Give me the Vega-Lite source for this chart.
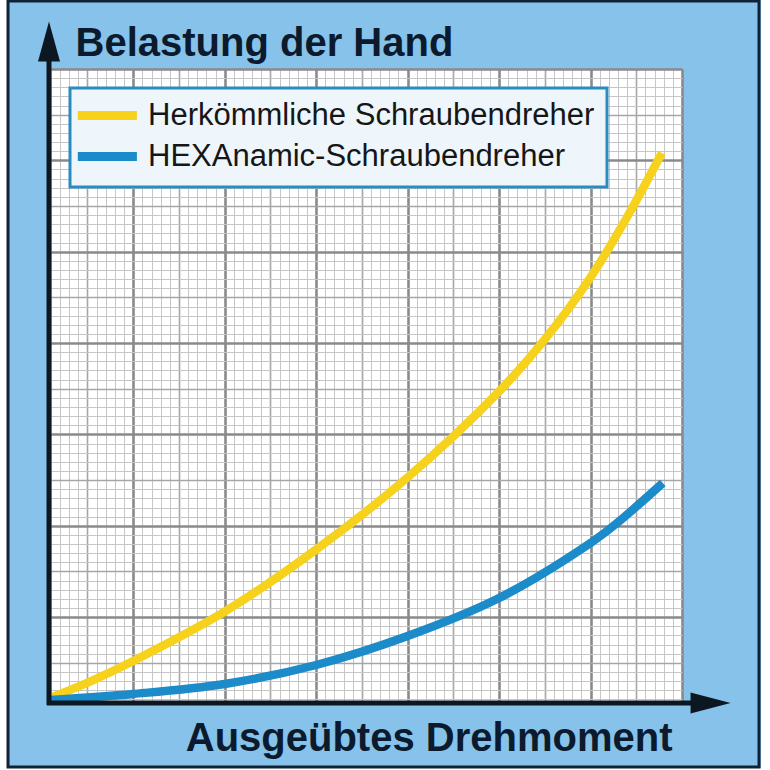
{
  "$schema": "https://vega.github.io/schema/vega-lite/v6.json",
  "autosize": "none",
  "width": 632,
  "height": 634,
  "padding": {"left": 50, "top": 69, "right": 88, "bottom": 67},
  "background": "#86c2e9",
  "data": {
    "values": [
      {"torque": 0.9, "load": 1.15, "series": "Herkömmliche Schraubendreher"},
      {"torque": 5.27, "load": 2.95, "series": "Herkömmliche Schraubendreher"},
      {"torque": 10, "load": 5.2, "series": "Herkömmliche Schraubendreher"},
      {"torque": 20, "load": 10.6, "series": "Herkömmliche Schraubendreher"},
      {"torque": 30, "load": 17.4, "series": "Herkömmliche Schraubendreher"},
      {"torque": 40, "load": 25.3, "series": "Herkömmliche Schraubendreher"},
      {"torque": 50, "load": 34.7, "series": "Herkömmliche Schraubendreher"},
      {"torque": 55, "load": 40.4, "series": "Herkömmliche Schraubendreher"},
      {"torque": 60, "load": 47.2, "series": "Herkömmliche Schraubendreher"},
      {"torque": 64, "load": 53.8, "series": "Herkömmliche Schraubendreher"},
      {"torque": 67.8, "load": 60.8, "series": "Herkömmliche Schraubendreher"},
      {"torque": 0.9, "load": 0.93, "series": "HEXAnamic-Schraubendreher"},
      {"torque": 10, "load": 1.59, "series": "HEXAnamic-Schraubendreher"},
      {"torque": 20, "load": 2.68, "series": "HEXAnamic-Schraubendreher"},
      {"torque": 30, "load": 4.76, "series": "HEXAnamic-Schraubendreher"},
      {"torque": 40, "load": 7.93, "series": "HEXAnamic-Schraubendreher"},
      {"torque": 50, "load": 12.09, "series": "HEXAnamic-Schraubendreher"},
      {"torque": 60, "load": 18.12, "series": "HEXAnamic-Schraubendreher"},
      {"torque": 62.9, "load": 20.3, "series": "HEXAnamic-Schraubendreher"},
      {"torque": 67.9, "load": 24.68, "series": "HEXAnamic-Schraubendreher"}
    ]
  },
  "layer": [
    {
      "data": {"values": [{}]},
      "mark": {"type": "rect", "fill": null, "stroke": "white", "strokeWidth": 16},
      "encoding": {
        "x": {"datum": -4.57, "type": "quantitative", "scale": {"domain": [0.9, 70], "nice": false, "zero": false}},
        "x2": {"datum": 79.51},
        "y": {"datum": 78.43, "type": "quantitative", "scale": {"domain": [0.6, 70], "nice": false, "zero": false}},
        "y2": {"datum": -7.39}
      }
    },
    {
      "data": {"values": [{}]},
      "mark": {"type": "rect", "fill": null, "stroke": "#0f2236", "strokeWidth": 3},
      "encoding": {
        "x": {"datum": -3.69, "type": "quantitative"},
        "x2": {"datum": 78.42},
        "y": {"datum": 77.45, "type": "quantitative"},
        "y2": {"datum": -6.41}
      }
    },
    {
      "mark": {"type": "line", "strokeWidth": 8.5, "interpolate": "catmull-rom", "strokeCap": "butt"},
      "encoding": {
        "x": {"field": "torque", "type": "quantitative",
          "axis": {"orient": "bottom", "tickCount": 70,
            "title": "Ausgeübtes Drehmoment", "titleX": 622, "titleY": 47, "titleAlign": "right", "titleBaseline": "alphabetic", "titleAngle": 0}},
        "y": {"field": "load", "type": "quantitative",
          "axis": {"orient": "left", "tickCount": 70,
            "title": "Belastung der Hand", "titleAngle": 0, "titleX": 25, "titleY": -14, "titleAlign": "left", "titleBaseline": "alphabetic"}},
        "color": {"field": "series", "type": "nominal",
          "scale": {"domain": ["Herkömmliche Schraubendreher", "HEXAnamic-Schraubendreher"], "range": ["#f6d21c", "#1b8bc9"]},
          "legend": {"orient": "none", "legendX": 20, "legendY": 19, "title": null,
            "fillColor": "#eef6fc", "strokeColor": "#2b8cbf", "padding": 12,
            "labelFont": "Liberation Sans", "labelFontSize": 31, "labelColor": "#161616",
            "labelLimit": 1000, "labelOffset": 35, "rowPadding": 4,
            "symbolType": "M-2,0H4", "symbolSize": 388, "symbolStrokeWidth": 9,
            "encode": {"legend": {"update": {"strokeWidth": {"value": 3}}}}}}
      }
    },
    {
      "data": {"values": [{}]},
      "mark": {"type": "rule", "color": "#0c1722", "strokeWidth": 5, "strokeCap": "butt"},
      "encoding": {
        "x": {"datum": 0.79, "type": "quantitative"},
        "y": {"datum": 0.38, "type": "quantitative"},
        "y2": {"datum": 72.08}
      }
    },
    {
      "data": {"values": [{}]},
      "mark": {"type": "rule", "color": "#0c1722", "strokeWidth": 5, "strokeCap": "butt"},
      "encoding": {
        "x": {"datum": 0.57, "type": "quantitative"},
        "x2": {"datum": 71.97},
        "y": {"datum": 0.6, "type": "quantitative"}
      }
    },
    {
      "data": {"values": [{}]},
      "mark": {"type": "point", "shape": "M0,-1L0.55,1L-0.55,1Z", "size": 1600, "filled": true, "color": "#0c1722", "opacity": 1},
      "encoding": {
        "x": {"datum": 0.79, "type": "quantitative"},
        "y": {"datum": 73.01, "type": "quantitative"}
      }
    },
    {
      "data": {"values": [{}]},
      "mark": {"type": "point", "shape": "M1,0L-1,-0.52L-1,0.52Z", "size": 1600, "filled": true, "color": "#0c1722", "opacity": 1},
      "encoding": {
        "x": {"datum": 73.12, "type": "quantitative"},
        "y": {"datum": 0.6, "type": "quantitative"}
      }
    }
  ],
  "config": {
    "view": {"fill": "white", "stroke": null},
    "axis": {
      "labels": false, "ticks": false, "domain": false, "grid": true,
      "gridColor": {"condition": [{"test": "datum.value % 10 === 0", "value": "#8a8a8a"}, {"test": "datum.value % 5 === 0", "value": "#a6a6a6"}], "value": "#c6c6c6"},
      "gridWidth": {"condition": [{"test": "datum.value % 10 === 0", "value": 2.6}, {"test": "datum.value % 5 === 0", "value": 1.6}], "value": 1},
      "titleFont": "Liberation Sans", "titleFontSize": 40, "titleFontWeight": "bold", "titleColor": "#0b1a2c", "titlePadding": 0
    }
  }
}
